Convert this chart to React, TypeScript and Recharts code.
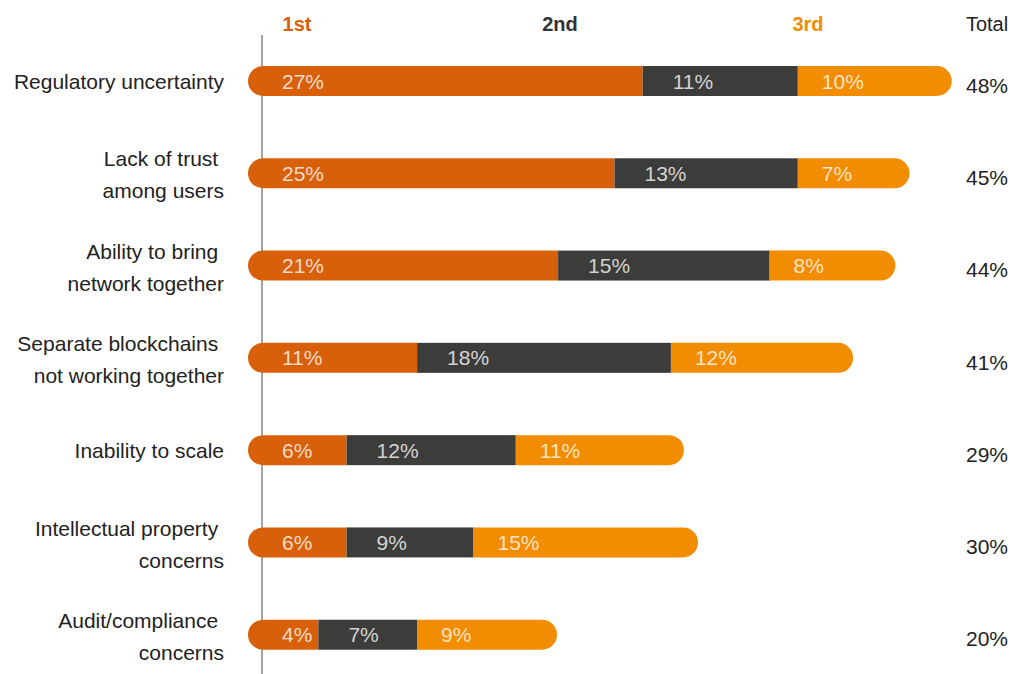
import React from "react";
import { Bar, BarChart, LabelList, XAxis, YAxis } from "recharts";

const categories = [
  "Regulatory uncertainty",
  "Lack of trust \namong users",
  "Ability to bring \nnetwork together",
  "Separate blockchains \nnot working together",
  "Inability to scale",
  "Intellectual property \nconcerns",
  "Audit/compliance \nconcerns",
];
const first = [27, 25, 21, 11, 6, 6, 4];
const second = [11, 13, 15, 18, 12, 9, 7];
const third = [10, 7, 8, 12, 11, 15, 9];
const totals = [48, 45, 44, 41, 29, 30, 20];

const headers = [
  { label: "1st", color: "#d9600b", left: 297, bold: true },
  { label: "2nd", color: "#333333", left: 560, bold: true },
  { label: "3rd", color: "#f08c00", left: 808, bold: true },
  { label: "Total", color: "#222222", left: 987, bold: false },
];

const data = categories.map((name, i) => ({
  name,
  first: first[i],
  second: second[i],
  third: third[i],
  total: totals[i],
}));

const FONT = '"Liberation Sans", Arial, Helvetica, sans-serif';

function CategoryTick({ x, y, payload }: any) {
  const lines = String(payload.value).split("\n");
  const start = -((lines.length - 1) * 32) / 2 + (lines.length > 1 ? 1.5 : 0);
  return (
    <text x={x} y={y} textAnchor="end" fill="#222" fontSize={21} fontFamily={FONT}>
      {lines.map((line, i) => (
        <tspan key={i} x={x} y={y + start + i * 32} dominantBaseline="central">
          {line.replace(/ $/, "\u00a0")}
        </tspan>
      ))}
    </text>
  );
}

function TotalTick({ x, y, payload }: any) {
  const row = data.find((d) => d.name === payload.value);
  return (
    <text
      x={x}
      y={y + 4}
      textAnchor="middle"
      dominantBaseline="central"
      fill="#222"
      fontSize={21}
      fontFamily={FONT}
    >
      {row ? `${row.total}%` : ""}
    </text>
  );
}

function Segment({ x, y, width, height, fill, kind }: any) {
  const r = height / 2;
  if (kind === "first") {
    const x0 = x - 14;
    const x1 = x + width;
    return (
      <path
        d={`M${x1},${y} H${x0 + r} A${r},${r} 0 0 0 ${x0 + r},${y + height} H${x1} Z`}
        fill={fill}
      />
    );
  }
  if (kind === "third") {
    const x1 = x + width + 13;
    return (
      <path
        d={`M${x},${y} H${x1 - r} A${r},${r} 0 0 1 ${x1 - r},${y + height} H${x} Z`}
        fill={fill}
      />
    );
  }
  return <rect x={x} y={y} width={width} height={height} fill={fill} />;
}

function segmentLabel(offset: number) {
  return ({ x, y, height, value }: any) => (
    <text
      x={x + offset}
      y={y + height / 2}
      dominantBaseline="central"
      fill="#ffffff"
      fillOpacity={0.78}
      fontSize={21}
      fontFamily={FONT}
    >
      {`${value}%`}
    </text>
  );
}

export default function App() {
  return (
    <div
      style={{
        position: "absolute",
        left: 0,
        top: 0,
        width: 1010,
        height: 674,
        overflow: "hidden",
        background: "#fff",
        fontFamily: FONT,
      }}
    >
      {headers.map((h) => (
        <div
          key={h.label}
          style={{
            position: "absolute",
            left: h.left,
            top: 14,
            transform: "translateX(-50%)",
            fontSize: 20,
            lineHeight: "20px",
            fontWeight: h.bold ? 700 : 400,
            color: h.color,
          }}
        >
          {h.label}
        </div>
      ))}
      <BarChart
        width={1010}
        height={690}
        data={data}
        layout="vertical"
        margin={{ top: 35, right: 0, bottom: 9, left: 0 }}
        barSize={30}
      >
        <XAxis type="number" domain={[0, 50]} hide />
        <YAxis
          type="category"
          dataKey="name"
          width={262}
          tickSize={0}
          tickMargin={38}
          tickLine={false}
          axisLine={{ stroke: "#a3a3a3", strokeWidth: 2 }}
          tick={<CategoryTick />}
          interval={0}
          zIndex={-100}
        />
        <YAxis
          yAxisId="total"
          type="category"
          dataKey="name"
          orientation="right"
          width={43}
          tickSize={0}
          tickMargin={20}
          tickLine={false}
          axisLine={false}
          tick={<TotalTick />}
          interval={0}
        />
        <Bar
          dataKey="first"
          stackId="a"
          fill="#d9600b"
          isAnimationActive={false}
          shape={(p: any) => <Segment {...p} kind="first" />}
        >
          <LabelList dataKey="first" content={segmentLabel(20)} />
        </Bar>
        <Bar
          dataKey="second"
          stackId="a"
          fill="#3c3c3a"
          isAnimationActive={false}
          shape={(p: any) => <Segment {...p} kind="second" />}
        >
          <LabelList dataKey="second" content={segmentLabel(30)} />
        </Bar>
        <Bar
          dataKey="third"
          stackId="a"
          fill="#f28c00"
          isAnimationActive={false}
          shape={(p: any) => <Segment {...p} kind="third" />}
        >
          <LabelList dataKey="third" content={segmentLabel(24)} />
        </Bar>
      </BarChart>
    </div>
  );
}
